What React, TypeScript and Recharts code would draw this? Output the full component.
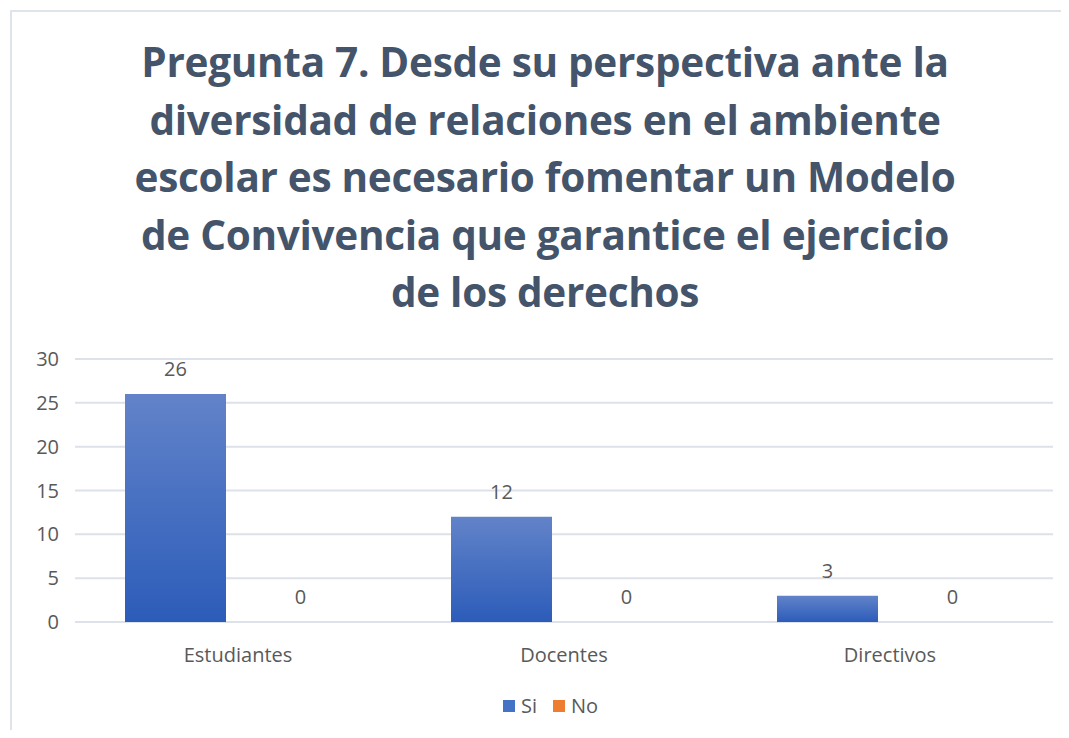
import { Bar, BarChart, CartesianGrid, LabelList, Legend, XAxis, YAxis } from "recharts"

const groups = ["Estudiantes", "Docentes", "Directivos"]
const siValues = [26, 12, 3]
const noValues = [0, 0, 0]
const yTicks = [0, 5, 10, 15, 20, 25, 30]

const titleLines = [
  "Pregunta 7. Desde su perspectiva ante la",
  "diversidad de relaciones en el ambiente",
  "escolar es necesario fomentar un Modelo",
  "de Convivencia que garantice el ejercicio",
  "de los derechos",
]

const series = [
  { key: "Si", color: "#4472c4" },
  { key: "No", color: "#ed7d31" },
]

const data = groups.map((g, i) => ({ group: g, Si: siValues[i], No: noValues[i] }))

const textColor = "#595959"
const font = "'Open Sans', sans-serif"

function LegendContent() {
  return (
    <div style={{ display: "flex", justifyContent: "center", gap: 16, fontSize: 20, color: textColor, fontFamily: font }}>
      {series.map((s) => (
        <span key={s.key} style={{ display: "inline-flex", alignItems: "center", gap: 6 }}>
          <span style={{ display: "inline-block", width: 12, height: 12, background: s.color }} />
          {s.key}
        </span>
      ))}
    </div>
  )
}

export default function App() {
  return (
    <div style={{ position: "relative", width: 1069, height: 738, margin: -8, background: "#fff", overflow: "hidden", fontFamily: font }}>
      <div
        style={{
          position: "absolute",
          left: 10,
          top: 10,
          width: 1080,
          height: 760,
          border: "2px solid #dfe3ea",
          boxSizing: "border-box",
        }}
      />
      <div
        style={{
          position: "absolute",
          left: 10,
          width: 1070,
          top: 33,
          textAlign: "center",
          color: "#44546a",
          fontWeight: 700,
          fontSize: 40.5,
          lineHeight: "57.5px",
          letterSpacing: -0.3,
        }}
      >
        {titleLines.map((l) => (
          <div key={l}>{l}</div>
        ))}
      </div>
      <div style={{ position: "absolute", left: 0, top: 0 }}>
        <BarChart
          width={1069}
          height={738}
          data={data}
          margin={{ top: 359, right: 16, left: 10, bottom: 52 }}
          barCategoryGap={50}
          barGap={24}
        >
          <defs>
            <linearGradient id="siFill" x1="0" y1="0" x2="0" y2="1">
              <stop offset="0%" stopColor="#6283c9" />
              <stop offset="100%" stopColor="#2c5cb9" />
            </linearGradient>
          </defs>
          <CartesianGrid vertical={false} stroke="#dde2ea" strokeWidth={2} />
          <XAxis
            dataKey="group"
            axisLine={false}
            tickLine={false}
            height={40}
            tick={{ fill: textColor, fontSize: 20, fontFamily: font }}
            dy={18}
          />
          <YAxis
            width={65}
            domain={[0, 30]}
            ticks={yTicks}
            axisLine={false}
            tickLine={false}
            tick={{ fill: textColor, fontSize: 20, fontFamily: font }}
            dx={-8}
          />
          <Legend
            content={<LegendContent />}
            wrapperStyle={{ position: "absolute", top: 692, left: 16, width: 1069, height: 24 }}
          />
          <Bar dataKey="Si" fill="url(#siFill)" isAnimationActive={false}>
            <LabelList dataKey="Si" position="top" offset={18} fill={textColor} fontSize={20} fontFamily={font} />
          </Bar>
          <Bar dataKey="No" fill="#ed7d31" minPointSize={0.01} isAnimationActive={false}>
            <LabelList dataKey="No" position="top" offset={18} fill={textColor} fontSize={20} fontFamily={font} />
          </Bar>
        </BarChart>
      </div>
    </div>
  )
}
